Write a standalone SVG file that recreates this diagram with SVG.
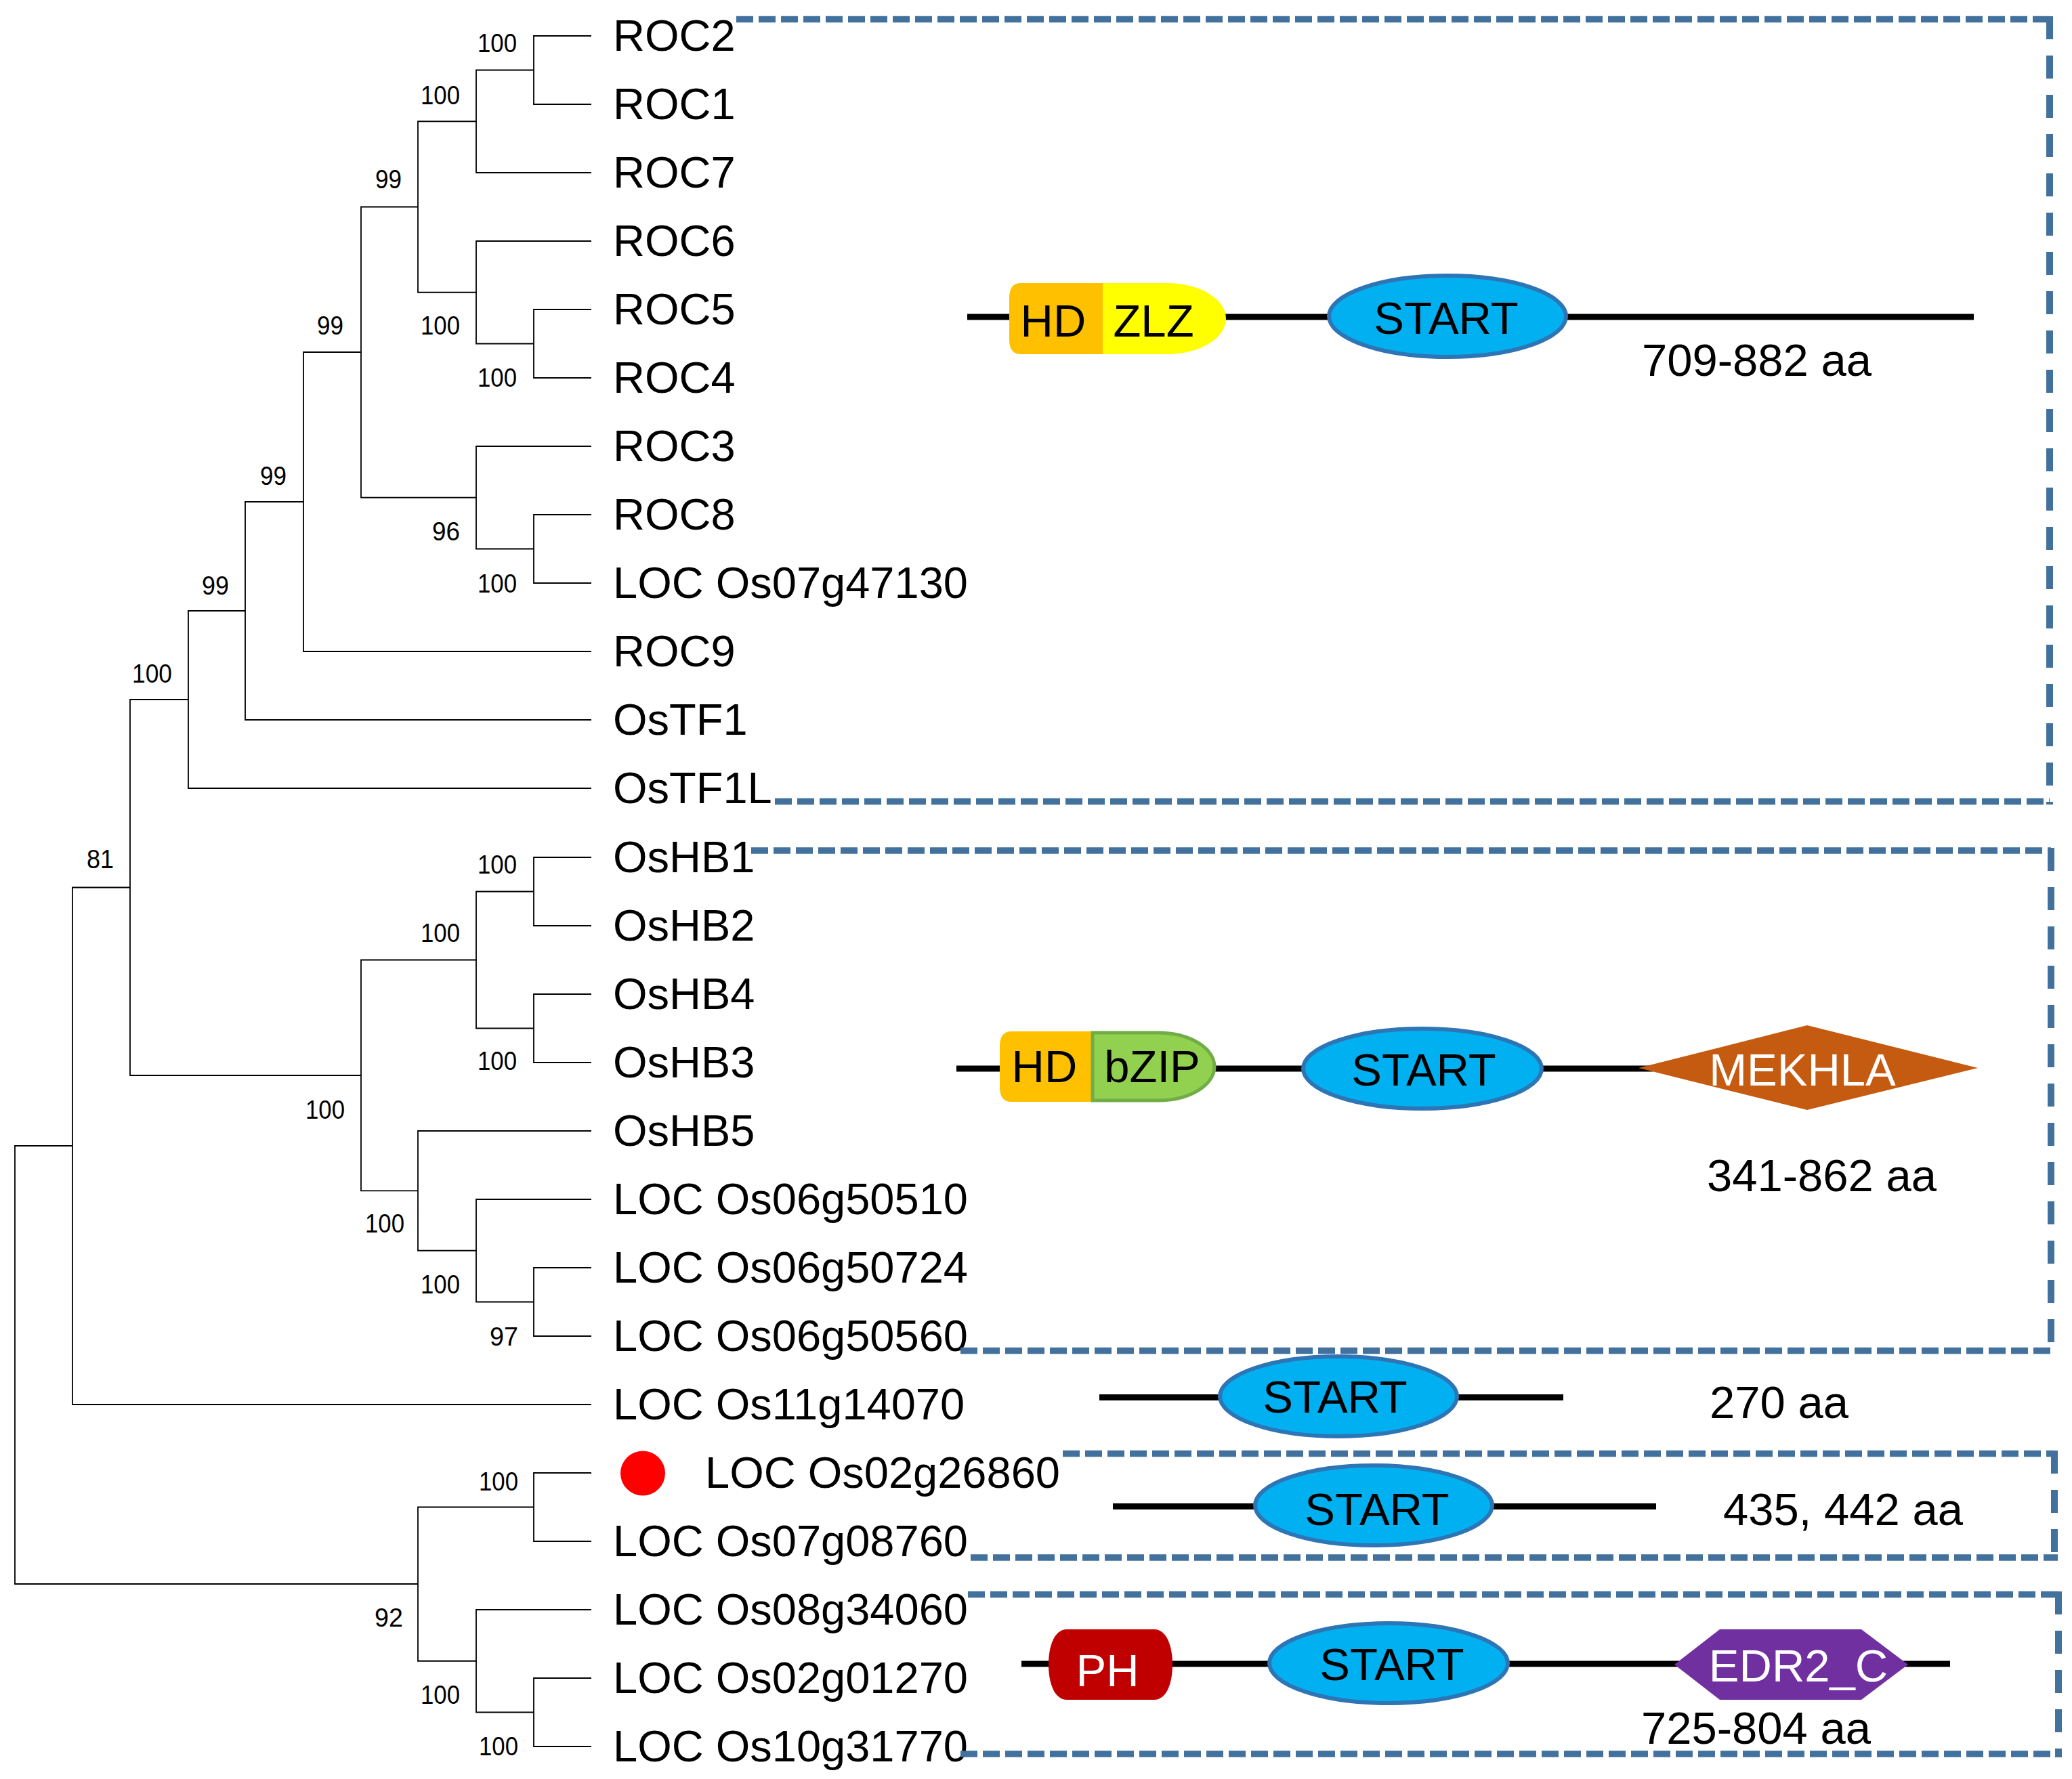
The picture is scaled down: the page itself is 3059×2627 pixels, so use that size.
<svg xmlns="http://www.w3.org/2000/svg" width="3059" height="2627" viewBox="0 0 3059 2627">
<style>
.br{fill:none;stroke:#000;stroke-width:1.8}
.bs{font-family:"Liberation Sans",Arial,sans-serif;font-size:38px;fill:#000;text-anchor:end}
.lf{font-family:"Liberation Sans",Arial,sans-serif;font-size:65px;fill:#000}
.dt{font-family:"Liberation Sans",Arial,sans-serif;font-size:67px;fill:#000;text-anchor:middle}
.dw{font-family:"Liberation Sans",Arial,sans-serif;font-size:67px;fill:#fff;text-anchor:middle}
.aa{font-family:"Liberation Sans",Arial,sans-serif;font-size:67px;fill:#000}
.bb{stroke:#000;stroke-width:9;fill:none}
.st{fill:#00B0F0;stroke:#2E75B6;stroke-width:6}
.h{fill:none;stroke:#41719C;stroke-width:9.5;stroke-dasharray:25 8}
.v{fill:none;stroke:#41719C;stroke-width:10;stroke-dasharray:34 24}
</style>
<rect width="3059" height="2627" fill="#fff"/>
<g id="connectors">
<path class="br" d="M873,53 H788 V154 H873"/>
<path class="br" d="M788,103.5 H703 V255 H873"/>
<path class="br" d="M873,457 H788 V558 H873"/>
<path class="br" d="M873,356 H703 V507.5 H788"/>
<path class="br" d="M703,179.25 H617 V431.75 H703"/>
<path class="br" d="M873,760 H788 V861 H873"/>
<path class="br" d="M873,659 H703 V810.5 H788"/>
<path class="br" d="M617,305.5 H533 V734.75 H703"/>
<path class="br" d="M533,520 H448 V962 H873"/>
<path class="br" d="M448,741 H362 V1063 H873"/>
<path class="br" d="M362,902 H278 V1164 H873"/>
<path class="br" d="M873,1266 H788 V1367 H873"/>
<path class="br" d="M873,1468 H788 V1569 H873"/>
<path class="br" d="M788,1316.5 H703 V1518.5 H788"/>
<path class="br" d="M873,1872 H788 V1973 H873"/>
<path class="br" d="M873,1771 H703 V1922.5 H788"/>
<path class="br" d="M873,1670 H617 V1846.75 H703"/>
<path class="br" d="M703,1417.5 H533 V1758.4 H617"/>
<path class="br" d="M278,1033 H192 V1588 H533"/>
<path class="br" d="M192,1310.5 H107 V2074 H873"/>
<path class="br" d="M873,2175 H788 V2276 H873"/>
<path class="br" d="M873,2478 H788 V2579 H873"/>
<path class="br" d="M873,2377 H703 V2528.5 H788"/>
<path class="br" d="M788,2225.5 H617 V2452.75 H703"/>
<path class="br" d="M107,1692 H22 V2339 H617"/>
</g>
<g id="bootstrap">
<text class="bs" x="763" y="77" textLength="58" lengthAdjust="spacingAndGlyphs">100</text>
<text class="bs" x="679" y="154" textLength="58" lengthAdjust="spacingAndGlyphs">100</text>
<text class="bs" x="593" y="278" textLength="39" lengthAdjust="spacingAndGlyphs">99</text>
<text class="bs" x="679" y="494" textLength="58" lengthAdjust="spacingAndGlyphs">100</text>
<text class="bs" x="763" y="571" textLength="58" lengthAdjust="spacingAndGlyphs">100</text>
<text class="bs" x="507" y="494" textLength="39" lengthAdjust="spacingAndGlyphs">99</text>
<text class="bs" x="423" y="716" textLength="39" lengthAdjust="spacingAndGlyphs">99</text>
<text class="bs" x="679" y="798" textLength="41" lengthAdjust="spacingAndGlyphs">96</text>
<text class="bs" x="763" y="875" textLength="58" lengthAdjust="spacingAndGlyphs">100</text>
<text class="bs" x="338" y="878" textLength="40" lengthAdjust="spacingAndGlyphs">99</text>
<text class="bs" x="254" y="1008" textLength="59" lengthAdjust="spacingAndGlyphs">100</text>
<text class="bs" x="168" y="1282" textLength="40" lengthAdjust="spacingAndGlyphs">81</text>
<text class="bs" x="763" y="1290" textLength="58" lengthAdjust="spacingAndGlyphs">100</text>
<text class="bs" x="679" y="1391" textLength="58" lengthAdjust="spacingAndGlyphs">100</text>
<text class="bs" x="763" y="1580" textLength="58" lengthAdjust="spacingAndGlyphs">100</text>
<text class="bs" x="509" y="1652" textLength="58" lengthAdjust="spacingAndGlyphs">100</text>
<text class="bs" x="597" y="1820" textLength="58" lengthAdjust="spacingAndGlyphs">100</text>
<text class="bs" x="679" y="1910" textLength="58" lengthAdjust="spacingAndGlyphs">100</text>
<text class="bs" x="765" y="1987" textLength="42" lengthAdjust="spacingAndGlyphs">97</text>
<text class="bs" x="765" y="2201" textLength="58" lengthAdjust="spacingAndGlyphs">100</text>
<text class="bs" x="595" y="2402" textLength="42" lengthAdjust="spacingAndGlyphs">92</text>
<text class="bs" x="679" y="2516" textLength="58" lengthAdjust="spacingAndGlyphs">100</text>
<text class="bs" x="765" y="2592" textLength="58" lengthAdjust="spacingAndGlyphs">100</text>
</g>
<g id="leaves">
<g id="leaf-ROC2"><text class="lf" x="905" y="75">ROC2</text></g>
<g id="leaf-ROC1"><text class="lf" x="905" y="176">ROC1</text></g>
<g id="leaf-ROC7"><text class="lf" x="905" y="277">ROC7</text></g>
<g id="leaf-ROC6"><text class="lf" x="905" y="378">ROC6</text></g>
<g id="leaf-ROC5"><text class="lf" x="905" y="479">ROC5</text></g>
<g id="leaf-ROC4"><text class="lf" x="905" y="580">ROC4</text></g>
<g id="leaf-ROC3"><text class="lf" x="905" y="681">ROC3</text></g>
<g id="leaf-ROC8"><text class="lf" x="905" y="782">ROC8</text></g>
<g id="leaf-LOC07g47130"><text class="lf" x="905" y="883">LOC Os07g47130</text></g>
<g id="leaf-ROC9"><text class="lf" x="905" y="984">ROC9</text></g>
<g id="leaf-OsTF1"><text class="lf" x="905" y="1085">OsTF1</text></g>
<g id="leaf-OsTF1L"><text class="lf" x="905" y="1186">OsTF1L</text></g>
<g id="leaf-OsHB1"><text class="lf" x="905" y="1288">OsHB1</text></g>
<g id="leaf-OsHB2"><text class="lf" x="905" y="1389">OsHB2</text></g>
<g id="leaf-OsHB4"><text class="lf" x="905" y="1490">OsHB4</text></g>
<g id="leaf-OsHB3"><text class="lf" x="905" y="1591">OsHB3</text></g>
<g id="leaf-OsHB5"><text class="lf" x="905" y="1692">OsHB5</text></g>
<g id="leaf-LOC06g50510"><text class="lf" x="905" y="1793">LOC Os06g50510</text></g>
<g id="leaf-LOC06g50724"><text class="lf" x="905" y="1894">LOC Os06g50724</text></g>
<g id="leaf-LOC06g50560"><text class="lf" x="905" y="1995">LOC Os06g50560</text></g>
<g id="leaf-LOC11g14070"><text class="lf" x="905" y="2096">LOC Os11g14070</text></g>
<g id="leaf-LOC02g26860"><circle cx="949" cy="2175.5" r="33" fill="#FF0000"/><text class="lf" x="1041" y="2197">LOC Os02g26860</text></g>
<g id="leaf-LOC07g08760"><text class="lf" x="905" y="2298">LOC Os07g08760</text></g>
<g id="leaf-LOC08g34060"><text class="lf" x="905" y="2399">LOC Os08g34060</text></g>
<g id="leaf-LOC02g01270"><text class="lf" x="905" y="2500">LOC Os02g01270</text></g>
<g id="leaf-LOC10g31770"><text class="lf" x="905" y="2601">LOC Os10g31770</text></g>
</g>
<g id="boxes">
<g id="box1"><path class="h" d="M1087,28.5 H3026"/><path class="v" d="M3026,24 V1188"/><path class="h" d="M1144,1183.5 H3026"/></g>
<g id="box2"><path class="h" d="M1109,1256 H3028"/><path class="v" d="M3028,1252 V1998"/><path class="h" d="M1418,1994.5 H3028"/></g>
<g id="box3"><path class="h" d="M1569,2146.5 H3033"/><path class="v" d="M3033,2142 V2304"/><path class="h" d="M1433,2300 H3038"/></g>
<g id="box4"><path class="h" d="M1429,2354.5 H3039"/><path class="v" d="M3039,2350 V2595"/><path class="h" d="M1418,2590 H3044"/></g>
</g>
<g id="domain-row1">
<line class="bb" x1="1428" y1="468" x2="2914" y2="468"/>
<path d="M1628,418 H1507 Q1490,418 1490,440 V501 Q1490,523 1507,523 H1628 Z" fill="#FFC000"/>
<path d="M1628,418 H1723 A87,52.5 0 0 1 1723,523 H1628 Z" fill="#FFFF00"/>
<text class="dt" x="1555" y="497">HD</text>
<text class="dt" x="1703" y="497">ZLZ</text>
<ellipse class="st" cx="2137" cy="467" rx="175" ry="60"/>
<text class="dt" x="2135" y="493">START</text>
<text class="aa" x="2424" y="555">709-882 aa</text>
</g>
<g id="domain-row2">
<line class="bb" x1="1412" y1="1578" x2="2440" y2="1578"/>
<path d="M1613,1523 H1493 Q1476,1523 1476,1545 V1605 Q1476,1627 1493,1627 H1613 Z" fill="#FFC000"/>
<path d="M1613,1525 H1710 A83,50 0 0 1 1710,1625 H1613 Z" fill="#92D050" stroke="#70AD47" stroke-width="5"/>
<text class="dt" x="1542" y="1598">HD</text>
<text class="dt" x="1701" y="1598">bZIP</text>
<ellipse class="st" cx="2100" cy="1578" rx="176" ry="59"/>
<text class="dt" x="2102" y="1603">START</text>
<polygon points="2419,1577 2668,1514 2920,1577 2668,1639" fill="#C55A11"/>
<text class="dw" x="2661" y="1603">MEKHLA</text>
<text class="aa" x="2520" y="1759">341-862 aa</text>
</g>
<g id="domain-row3">
<line class="bb" x1="1623" y1="2063.5" x2="2308" y2="2063.5"/>
<ellipse class="st" cx="1976" cy="2062" rx="175" ry="59"/>
<text class="dt" x="1971" y="2086">START</text>
<text class="aa" x="2524" y="2094">270 aa</text>
</g>
<g id="domain-row4">
<line class="bb" x1="1643" y1="2224.5" x2="2445" y2="2224.5"/>
<ellipse class="st" cx="2028" cy="2223" rx="175" ry="59"/>
<text class="dt" x="2033" y="2252">START</text>
<text class="aa" x="2544" y="2252">435, 442 aa</text>
</g>
<g id="domain-row5">
<line class="bb" x1="1508" y1="2457" x2="2879" y2="2457"/>
<path d="M1575,2406 H1704 C1722,2406 1731,2430 1731,2458 C1731,2486 1722,2510 1704,2510 H1575 C1557,2510 1548,2486 1548,2458 C1548,2430 1557,2406 1575,2406 Z" fill="#C00000"/>
<text class="dw" x="1635" y="2490">PH</text>
<ellipse class="st" cx="2050" cy="2456" rx="176" ry="59"/>
<text class="dt" x="2055" y="2481">START</text>
<polygon points="2472,2458 2539,2406 2748,2406 2817,2458 2748,2510 2539,2510" fill="#7030A0"/>
<text class="dw" x="2655" y="2483">EDR2_C</text>
<text class="aa" x="2423" y="2575">725-804 aa</text>
</g>
</svg>
